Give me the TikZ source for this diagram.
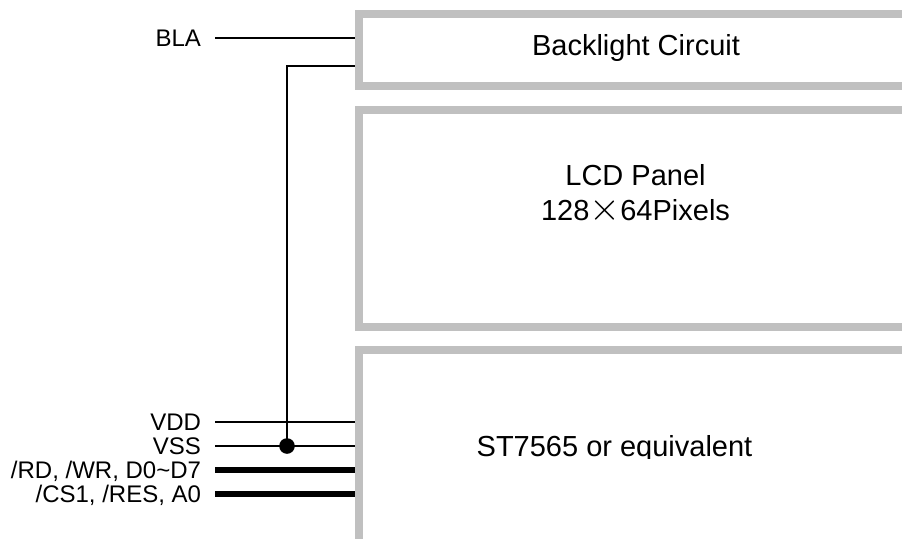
\documentclass[tikz,border=0pt]{standalone}
\usepackage{fontspec}
\setmainfont{Liberation Sans}
\usepackage{graphicx}
\usepackage{xcolor}
\usepackage{tikz}

\definecolor{boxgray}{HTML}{C0C0C0}

\begin{document}
\begin{tikzpicture}[x=1pt, y=-1pt, line width=2pt,
        frame/.style={draw=boxgray, line width=8pt},
        pin/.style={anchor=east, inner sep=0pt, outer xsep=14pt, text height=16pt, text depth=0pt, font=\fontsize{24}{26}\selectfont},
        title/.style={anchor=base, inner sep=0pt, font=\fontsize{29}{35}\selectfont},
        bus/.style={line width=6.5pt}]
        \useasboundingbox (0,0) rectangle (902,538);

        \def\edge{359}

        % left edges of the three blocks
        \coordinate (bl) at (\edge,13.5);
        \coordinate (lcd) at (\edge,110);
        \coordinate (st) at (\edge,350);
        \coordinate (blin) at (\edge,66);
        \coordinate (j) at (287,446);

        % pin labels
        \node[pin] (bla) at (215,38) {BLA};
        \node[pin] (vdd) at (215,422) {VDD};
        \node[pin] (vss) at (215,446) {VSS};
        \node[pin] (data) at (215,470) {/RD, /WR, D0\string~D7};
        \node[pin] (ctrl) at (215,494) {/CS1, /RES, A0};

        \draw (bla.east) -- (bla.east -| bl);
        \draw (blin) -- (blin -| j) -- (j);
        \draw (vdd.east) -- (vdd.east -| st);
        \draw (vss.east) -- (vss.east -| st);
        \draw[bus] (data.east) -- (data.east -| st);
        \draw[bus] (ctrl.east) -- (ctrl.east -| st);
        \fill (j) circle (7.8);

        % blocks, open to the right
        \draw[frame] (910,13.5) -- (bl) -- (\edge,86) -- (910,86);
        \draw[frame] (910,110) -- (lcd) -- (\edge,326.5) -- (910,326.5);
        \draw[frame] (910,350) -- (st) -- (\edge,545);

        \node[title] (bltext) at (636,55) {Backlight Circuit};
        \node[title] (lcdtext) at (635.5,185) {LCD Panel};
        \node[title, text height=21pt] (pixtext) at (635.5,220) {128\smash{\scalebox{1.6}{$\times$}}64Pixels};
        \begin{scope}
            \clip (0,0) rectangle (902,458);
            \node[title] (sttext) at (614.5,456) {ST7565 or equivalent};
        \end{scope}
    \end{tikzpicture}
\end{document}
